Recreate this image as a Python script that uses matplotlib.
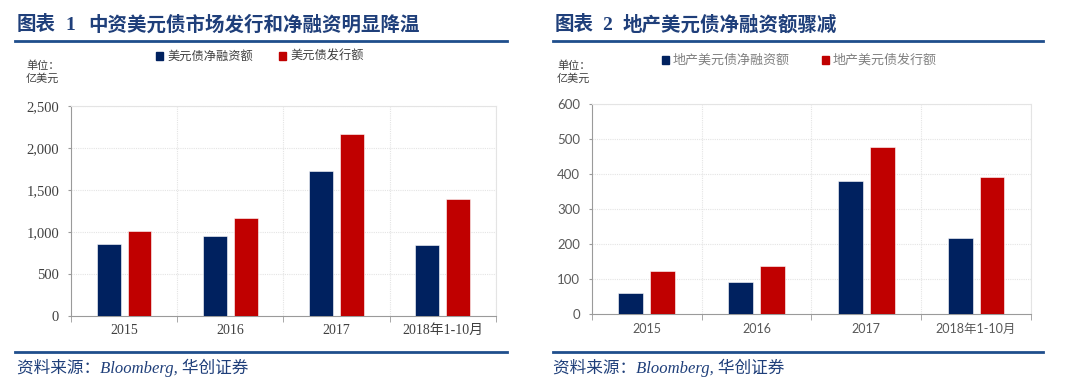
import matplotlib
matplotlib.use("Agg")
import matplotlib.pyplot as plt
import numpy as np

categories = ["2015", "2016", "2017", "2018年1-10月"]
left_net = [859, 955, 1724, 840]
left_issue = [1014, 1161, 2167, 1394]
left_yticks = [0, 500, 1000, 1500, 2000, 2500]
left_yticklabels = ["0", "500", "1,000", "1,500", "2,000", "2,500"]

right_net = [62, 91, 380, 218]
right_issue = [123, 137, 477, 391]
right_yticks = [0, 100, 200, 300, 400, 500, 600]
right_yticklabels = ["0", "100", "200", "300", "400", "500", "600"]

left_title = ("图表", "1", "中资美元债市场发行和净融资明显降温")
right_title = ("图表", "2", "地产美元债净融资额骤减")
left_legend = ["美元债净融资额", "美元债发行额"]
right_legend = ["地产美元债净融资额", "地产美元债发行额"]
unit_text = "单位：\n亿美元"
source_text = "资料来源：Bloomberg, 华创证券"

NAVY = "#00215F"
RED = "#C00000"
TITLE_BLUE = "#1F3F7A"
W, H = 1080, 388

fig = plt.figure(figsize=(W / 100, H / 100), dpi=100)
fig.patch.set_facecolor("white")


def ax_rect(x0, y0, x1, y1):
    return [x0 / W, 1 - y1 / H, (x1 - x0) / W, (y1 - y0) / H]


def panel(rect, net, issue, yticks, yticklabels, ymax, tick_font, tick_size, tick_color,
          legend_labels, legend_font_color, legend_x, legend_y, legend_size):
    ax = fig.add_axes(rect)
    x = np.arange(len(categories))
    bw = 0.225
    off = 0.145
    ax.bar(x - off, net, width=bw, color=NAVY, edgecolor="white", linewidth=0.4, zorder=3)
    ax.bar(x + off, issue, width=bw, color=RED, edgecolor="white", linewidth=0.4, zorder=3)
    ax.set_xlim(-0.5, len(categories) - 0.5)
    ax.set_ylim(0, ymax)
    ax.set_yticks(yticks)
    ax.set_yticklabels(yticklabels, family=tick_font, fontsize=tick_size, color=tick_color)
    ax.set_xticks(x)
    ax.set_xticklabels(categories, family=[tick_font, "Noto Sans CJK SC"], fontsize=tick_size - 0.5,
                       color=tick_color)
    ax.set_xticks(np.arange(-0.5, len(categories)), minor=True)
    ax.tick_params(axis="x", which="major", length=0, pad=6)
    ax.tick_params(axis="x", which="minor", length=4, color="#9a9a9a", direction="out")
    ax.tick_params(axis="y", length=2.5, color="#9a9a9a", pad=6)
    for yv in yticks[1:]:
        ax.axhline(yv, color="#e4e4e4", linestyle=(0, (1, 1)), linewidth=0.8, zorder=1)
    for xv in np.arange(0.5, len(categories)):
        ax.axvline(xv, color="#e4e4e4", linestyle=(0, (1, 1)), linewidth=0.8, zorder=1)
    ax.spines["left"].set_color("#9a9a9a")
    ax.spines["bottom"].set_color("#9a9a9a")
    for s in ("top", "right"):
        ax.spines[s].set_color("#e4e4e4")
        ax.spines[s].set_linestyle((0, (1, 1)))
        ax.spines[s].set_linewidth(0.8)
    # legend
    for i, (lab, col) in enumerate(zip(legend_labels, [NAVY, RED])):
        lx = legend_x[i]
        fig.patches.append(plt.Rectangle((lx / W, 1 - (legend_y + 3.5) / H), 7 / W, 7 / H,
                                         transform=fig.transFigure, color=col, figure=fig))
        fig.text((lx + 11) / W, 1 - legend_y / H, lab, family="Noto Sans CJK SC",
                 fontsize=legend_size, color=legend_font_color, va="center", ha="left")
    return ax


# Left panel
panel(ax_rect(71, 105.7, 495.7, 316), left_net, left_issue, left_yticks, left_yticklabels, 2500,
      "Liberation Serif", 10.5, "#404040", left_legend, "#404040", [156, 279], 56, 8.8)
# Right panel
panel(ax_rect(591.7, 104, 1031, 314.3), right_net, right_issue, right_yticks, right_yticklabels, 600,
      "Lato", 9.5, "#595959", right_legend, "#808080", [662, 822], 60, 9.4)

# Titles
for (a, num, rest), xs in [(left_title, (17, 70, 88)), (right_title, (555, 607, 623))]:
    fig.text(xs[0] / W, 1 - 25 / H, a, family="Noto Sans CJK SC", fontsize=14, fontweight="bold",
             color=TITLE_BLUE, va="center", ha="left")
    fig.text(xs[1] / W, 1 - 25 / H, num, family="Liberation Serif", fontsize=14, fontweight="bold",
             color=TITLE_BLUE, va="center", ha="center")
    fig.text(xs[2] / W, 1 - 25 / H, rest, family="Noto Sans CJK SC", fontsize=14, fontweight="bold",
             color=TITLE_BLUE, va="center", ha="left")

# Rules
for x0, x1 in [(15, 507), (553, 1043)]:
    fig.add_artist(plt.Line2D([x0 / W, x1 / W], [1 - 41 / H, 1 - 41 / H], color="#1F4E8C", linewidth=2))
    fig.add_artist(plt.Line2D([x0 / W, x1 / W], [1 - 351.5 / H, 1 - 351.5 / H], color="#1F4E8C", linewidth=2))

# Unit labels
fig.text(26 / W, 1 - 60 / H, unit_text, family="Noto Sans CJK SC", fontsize=8, color="#404040",
         va="top", ha="left", linespacing=1.35)
fig.text(557 / W, 1 - 60 / H, unit_text, family="Noto Sans CJK SC", fontsize=8, color="#404040",
         va="top", ha="left", linespacing=1.35)

# Sources
for x0 in (17, 553):
    fig.text(x0 / W, 1 - 368 / H, source_text, family=["Liberation Serif", "Noto Sans CJK SC"],
             fontsize=12, style="italic", color=TITLE_BLUE, va="center", ha="left")

fig.savefig("out.png", dpi=100, facecolor="white")
